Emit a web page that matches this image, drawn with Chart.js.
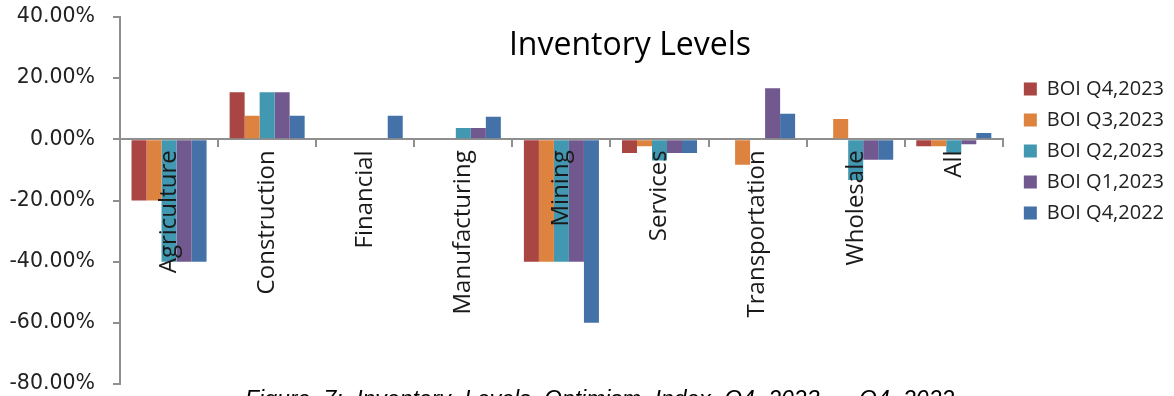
<!DOCTYPE html>
<html>
<head>
<meta charset="utf-8">
<title>Inventory Levels</title>
<script src="https://cdn.jsdelivr.net/npm/chart.js@4.4.1/dist/chart.umd.min.js"></script>
<style>
  html, body { margin: 0; padding: 0; background: #fff; }
  #wrap { position: relative; width: 1174px; height: 396px; overflow: hidden; }
  #chart { position: absolute; left: 0; top: 0; }
  .title {
    position: absolute; left: 430px; top: 27px; width: 400px; text-align: center;
    font: 32px/1 "Open Sans", sans-serif; color: #000;
  }
  .caption {
    position: absolute; left: 245px; top: 388px; white-space: nowrap; word-spacing: 7px;
    font: italic 23px/1 "Liberation Sans", Arial, sans-serif; color: #000;
  }
</style>
</head>
<body>
<div id="wrap">
  <canvas id="chart" width="1174" height="396"></canvas>
  <div class="title">Inventory Levels</div>
  <div class="caption">Figure 7: Inventory Levels Optimism Index Q4 2023 – Q4 2022</div>
</div>
<script>
const sectors = ['Agriculture', 'Construction', 'Financial', 'Manufacturing', 'Mining', 'Services', 'Transportation', 'Wholesale', 'All'];

// percent balance per sector, one array per survey round
const q4_2023 = [-20, 15.38, 0, 0, -40, -4.5, 0, 0, -2.3];
const q3_2023 = [-20, 7.69, 0, 0, -40, -2.3, -8.33, 6.67, -2.3];
const q2_2023 = [-40, 15.38, 0, 3.7, -40, -6.9, 0, -13.33, -4.6];
const q1_2023 = [-40, 15.38, 0, 3.7, -40, -4.5, 16.67, -6.67, -1.6];
const q4_2022 = [-40, 7.69, 7.69, 7.41, -60, -4.5, 8.33, -6.67, 2.1];

const seriesNames = ['BOI Q4,2023', 'BOI Q3,2023', 'BOI Q2,2023', 'BOI Q1,2023', 'BOI Q4,2022'];
const seriesValues = [q4_2023, q3_2023, q2_2023, q1_2023, q4_2022];
const seriesColors = ['#a94543', '#dd833f', '#4298b0', '#71588f', '#4472a8'];

const axisGrey = '#8f8f8f';

new Chart(document.getElementById('chart'), {
  type: 'bar',
  data: {
    labels: sectors,
    datasets: seriesNames.map((name, i) => ({
      label: name,
      data: seriesValues[i],
      backgroundColor: seriesColors[i],
      borderWidth: 0,
      barPercentage: 1,
      categoryPercentage: 0.765
    }))
  },
  options: {
    responsive: false,
    animation: false,
    layout: { padding: { top: 17, bottom: 12, left: 0, right: 0 } },
    plugins: {
      tooltip: { enabled: false },
      legend: {
        position: 'right',
        align: 'start',
        title: { display: true, text: ' ', font: { size: 10 }, padding: { top: 39, bottom: 0 } },
        labels: {
          boxWidth: 13,
          boxHeight: 13,
          padding: 11,
          color: '#222',
          font: { family: 'Open Sans', size: 20 }
        }
      }
    },
    scales: {
      x: {
        position: { y: 0 },
        grid: { drawOnChartArea: false, drawTicks: true, tickLength: 7, color: axisGrey, lineWidth: 2, offset: true },
        border: { display: true, color: axisGrey, width: 2 },
        ticks: {
          z: 1,  // sector names sit on top of the bars
          autoSkip: false,
          minRotation: 90,
          maxRotation: 90,
          padding: 4,
          color: '#1a1a1a',
          font: { family: 'Open Sans', size: 24 }
        }
      },
      y: {
        min: -80,
        max: 40,
        grid: { drawOnChartArea: false, drawTicks: true, tickLength: 7, color: axisGrey, lineWidth: 2 },
        border: { display: true, color: axisGrey, width: 2 },
        ticks: {
          stepSize: 20,
          padding: 18,
          color: '#222',
          font: { family: 'DejaVu Sans', size: 20.5 },
          callback: v => v.toFixed(2) + '%'
        },
        afterFit: s => {
          s.width = 120;
          s.paddingTop = 0;
          s.paddingBottom = 0;
        }
      },
      gap: {
        type: 'linear',
        position: 'right',
        display: true,
        grid: { display: false },
        border: { display: false },
        ticks: { display: false },
        afterFit: s => {
          s.width = 10;
          s.paddingTop = 0;
          s.paddingBottom = 0;
        }
      }
    }
  }
});
</script>
</body>
</html>
